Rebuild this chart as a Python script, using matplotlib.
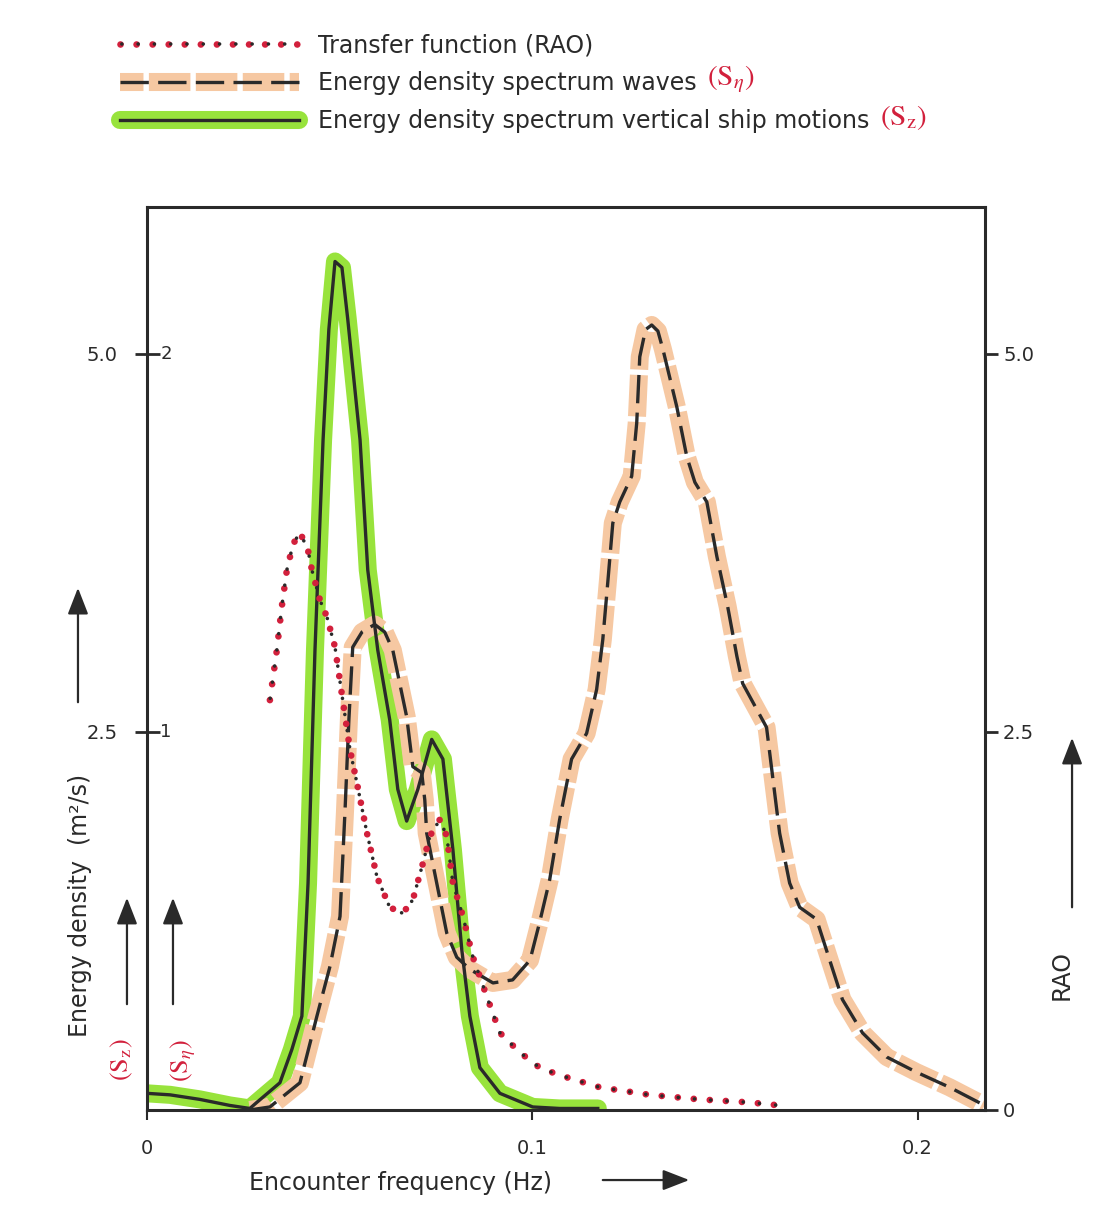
import numpy as np
import matplotlib
matplotlib.use("Agg")
import matplotlib.pyplot as plt
from matplotlib.lines import Line2D
from matplotlib.legend_handler import HandlerTuple
import matplotlib.transforms as mtransforms

plt.rcParams['font.family'] = ['DejaVu Sans']
plt.rcParams['mathtext.fontset'] = 'stix'

# --- data ---
# vertical ship motion spectrum S_z (m^2/s)
f_sz = [0.0, 0.0060, 0.0137, 0.0215, 0.0267, 0.0285, 0.0345, 0.0376, 0.0402, 0.0418,
        0.0436, 0.0457, 0.0472, 0.0488, 0.0506, 0.0521, 0.0553, 0.0573, 0.0599, 0.0630,
        0.0651, 0.0674, 0.0703, 0.0739, 0.0768, 0.0794, 0.0817, 0.0838, 0.0864, 0.0916,
        0.1001, 0.1071, 0.1170]
s_z = [0.11, 0.10, 0.07, 0.03, 0.01, 0.05, 0.18, 0.40, 0.62, 1.50,
       3.04, 4.43, 5.16, 5.61, 5.57, 5.23, 4.43, 3.57, 3.04, 2.58,
       2.12, 1.91, 2.12, 2.45, 2.32, 1.72, 1.06, 0.62, 0.28, 0.11,
       0.02, 0.01, 0.01]

# wave spectrum S_eta (m^2/s)
f_seta = [0.0267, 0.0319, 0.0397, 0.0441, 0.0475, 0.0501, 0.0514, 0.0524, 0.0534, 0.0558,
          0.0591, 0.0617, 0.0638, 0.0674, 0.0690, 0.0713, 0.0721, 0.0726, 0.0752, 0.0778,
          0.0804, 0.0838, 0.0898, 0.0949, 0.0994, 0.1019, 0.1045, 0.1071, 0.1102, 0.1141,
          0.1167, 0.1183, 0.1196, 0.1209, 0.1227, 0.1258, 0.1271, 0.1279, 0.1294, 0.1310,
          0.1326, 0.1339, 0.1375, 0.1401, 0.1422, 0.1453, 0.1479, 0.1507, 0.1531, 0.1546,
          0.1608, 0.1624, 0.1642, 0.1668, 0.1694, 0.1738, 0.1772, 0.1805, 0.1857, 0.1920,
          0.1997, 0.2083, 0.2174]
s_eta = [0.00, 0.02, 0.18, 0.62, 0.95, 1.28, 1.98, 2.58, 3.06, 3.16,
         3.21, 3.16, 3.04, 2.60, 2.27, 2.23, 2.05, 1.83, 1.50, 1.17,
         1.01, 0.93, 0.84, 0.86, 0.99, 1.24, 1.52, 1.92, 2.32, 2.49,
         2.78, 3.11, 3.49, 3.88, 4.02, 4.19, 4.54, 4.98, 5.16, 5.19,
         5.15, 5.03, 4.65, 4.32, 4.15, 4.02, 3.66, 3.33, 3.00, 2.82,
         2.53, 2.20, 1.83, 1.50, 1.34, 1.26, 0.99, 0.73, 0.51, 0.35,
         0.25, 0.15, 0.03]

# transfer function (RAO), drawn on the same vertical scale
f_rao = [0.0319, 0.0337, 0.0350, 0.0363, 0.0379, 0.0397, 0.0418, 0.0428, 0.0449, 0.0467,
         0.0488, 0.0508, 0.0527, 0.0545, 0.0571, 0.0597, 0.0630, 0.0664, 0.0690, 0.0716,
         0.0734, 0.0760, 0.0778, 0.0794, 0.0820, 0.0846, 0.0882, 0.0916, 0.0968, 0.1019,
         0.1071, 0.1175, 0.1305, 0.1434, 0.1564, 0.1642]
rao = [2.71, 3.04, 3.33, 3.57, 3.74, 3.82, 3.70, 3.57, 3.37, 3.26,
       3.06, 2.71, 2.38, 2.16, 1.83, 1.54, 1.34, 1.30, 1.39, 1.63,
       1.81, 1.92, 1.81, 1.50, 1.28, 1.01, 0.75, 0.51, 0.38, 0.28,
       0.23, 0.15, 0.10, 0.07, 0.05, 0.03]

xticks = [0, 0.1, 0.2]
xticklabels = ['0', '0.1', '0.2']
left_ticks = [2.5, 5.0]
left_labels = ['2.5', '5.0']
left_inner = ['1', '2']
right_ticks = [0, 2.5, 5.0]
right_labels = ['0', '2.5', '5.0']

ink = '#2a2a2a'
lime = '#98e33c'
peach = '#f6c8a2'
red = '#d2203c'

fig = plt.figure(figsize=(11.06, 12.25), dpi=100)
ax = fig.add_axes([0.1329, 0.0939, 0.7577, 0.7371])

# highlighter strokes underneath
ax.plot(f_sz, s_z, color=lime, lw=13, solid_capstyle='round', solid_joinstyle='round', zorder=1)
ax.plot(f_seta, s_eta, color=peach, lw=13, linestyle=(1, (2.3, 0.3)), zorder=1)

# pen lines on top
ax.plot(f_sz, s_z, color=ink, lw=2.4, solid_joinstyle='round', zorder=3)
ax.plot(f_seta, s_eta, color=ink, lw=2.4, linestyle=(0, (8.5, 2.8)), zorder=3)
ax.plot(f_rao, rao, color=red, lw=4.8, linestyle=(0, (0.01, 2.4)),
        dash_capstyle='round', zorder=4)
ax.plot(f_rao, rao, color=ink, lw=2.6, linestyle=(4.0, (0.01, 4.5)),
        dash_capstyle='round', zorder=4)

ax.set_xlim(0, 0.2175)
ax.set_ylim(0, 5.97)
for sp in ax.spines.values():
    sp.set_linewidth(2.2)
    sp.set_color(ink)

ax.set_xticks(xticks)
ax.set_xticklabels(xticklabels)
ax.tick_params(axis='x', direction='out', length=7, width=1.5, colors=ink,
               labelsize=14, pad=14)
ax.set_yticks(left_ticks)
ax.set_yticklabels(left_labels)
ax.tick_params(axis='y', direction='inout', length=18, width=2, colors=ink,
               labelsize=14, pad=12)

trans = mtransforms.blended_transform_factory(ax.transAxes, ax.transData)
for yv, lab in zip(left_ticks, left_inner):
    ax.text(0.016, yv, lab, transform=trans, fontsize=13, color=ink,
            va='center', ha='left')

axr = ax.twinx()
axr.set_ylim(ax.get_ylim())
axr.set_yticks(right_ticks)
axr.set_yticklabels(right_labels)
axr.tick_params(axis='y', direction='out', length=9, width=2, colors=ink,
                labelsize=14, pad=4)
for sp in axr.spines.values():
    sp.set_visible(False)

# axis captions with hand-drawn style arrows
arrow = dict(arrowstyle='-|>,head_length=0.9,head_width=0.35', color=ink, lw=1.6)
fig.text(0.0723, 0.2612, 'Energy density  (m\u00b2/s)', rotation=90,
         fontsize=17, color=ink, ha='center', va='center')
fig.add_artist(matplotlib.patches.FancyArrowPatch((0.0705, 0.4245), (0.0705, 0.5224),
               transform=fig.transFigure, mutation_scale=18, **arrow))
for xf in [0.1148, 0.1564]:
    fig.add_artist(matplotlib.patches.FancyArrowPatch((xf, 0.178), (xf, 0.2694),
                   transform=fig.transFigure, mutation_scale=18, **arrow))
fig.text(0.1103, 0.1347, r'$(\mathrm{S}_\mathrm{z})$', rotation=90, fontsize=19,
         color=red, ha='center', va='center')
fig.text(0.1655, 0.1347, r'$(\mathrm{S}_\eta)$', rotation=90, fontsize=19,
         color=red, ha='center', va='center')

fig.text(0.9602, 0.204, 'RAO', rotation=90, fontsize=17, color=ink,
         ha='center', va='center')
fig.add_artist(matplotlib.patches.FancyArrowPatch((0.9693, 0.2571), (0.9693, 0.4),
               transform=fig.transFigure, mutation_scale=18, **arrow))

fig.text(0.3617, 0.0343, 'Encounter frequency (Hz)', fontsize=17, color=ink,
         ha='center', va='center')
fig.add_artist(matplotlib.patches.FancyArrowPatch((0.5425, 0.0367), (0.6257, 0.0367),
               transform=fig.transFigure, mutation_scale=18, **arrow))

# legend
h_rao = (Line2D([], [], color=red, lw=4.8, linestyle=(0, (0.01, 2.4)), dash_capstyle='round'),
         Line2D([], [], color=ink, lw=2.6, linestyle=(4.0, (0.01, 4.5)), dash_capstyle='round'))
h_eta = (Line2D([], [], color=peach, lw=13, linestyle=(1, (2.3, 0.3))),
         Line2D([], [], color=ink, lw=2.4, linestyle=(0, (8.5, 2.8))))
h_z = (Line2D([], [], color=lime, lw=13, solid_capstyle='round'),
       Line2D([], [], color=ink, lw=2.4))
leg = fig.legend([h_rao, h_eta, h_z],
                 ['Transfer function (RAO)', 'Energy density spectrum waves',
                  'Energy density spectrum vertical ship motions'],
                 handler_map={tuple: HandlerTuple(ndivide=1)},
                 loc='upper left', bbox_to_anchor=(0.1085, 0.973), frameon=False,
                 fontsize=17, handlelength=7.6, handletextpad=0.8, labelspacing=0.6,
                 borderpad=0, borderaxespad=0)
for t in leg.get_texts():
    t.set_color(ink)

fig.canvas.draw()
renderer = fig.canvas.get_renderer()
inv = fig.transFigure.inverted()
for t, lab in zip(leg.get_texts()[1:], [r'$(\mathrm{S}_\eta)$', r'$(\mathrm{S}_\mathrm{z})$']):
    bb = t.get_window_extent(renderer)
    x1, yc = inv.transform((bb.x1 + 10, (bb.y0 + bb.y1) / 2 + 4))
    fig.text(x1, yc, lab, fontsize=21, color=red, ha='left', va='center')

fig.savefig('out.png', dpi=100, facecolor='white')
